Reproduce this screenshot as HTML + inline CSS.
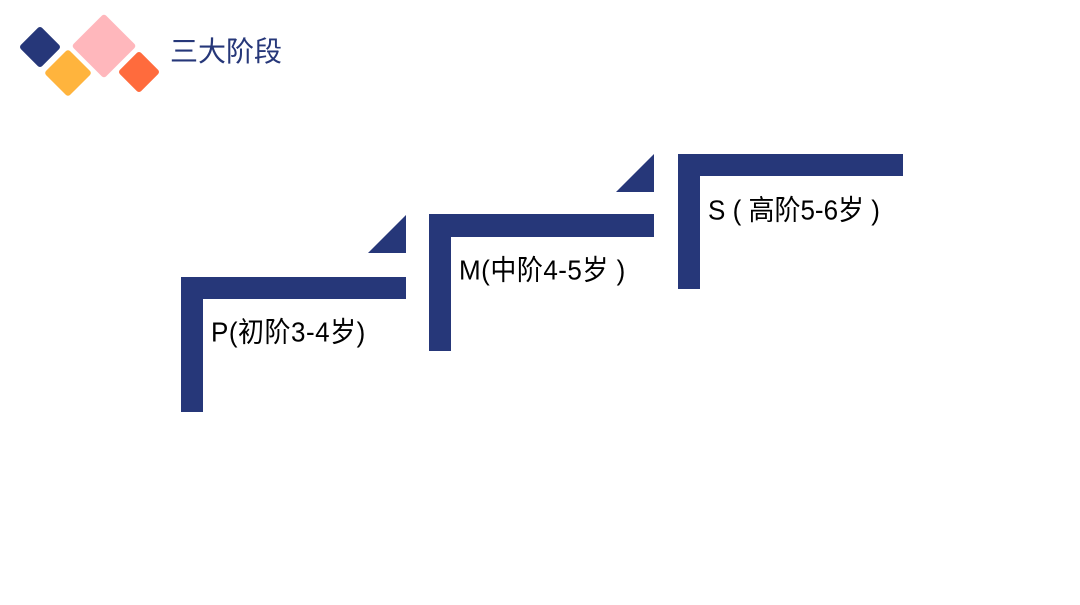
<!DOCTYPE html>
<html><head><meta charset="utf-8"><style>
body{margin:0;width:1080px;height:605px;background:#fff;position:relative;overflow:hidden;font-family:"Liberation Sans","Noto Sans CJK SC",sans-serif}
.t{position:absolute;white-space:nowrap;color:#000;font-size:26px;line-height:1;transform:scaleY(1.08)}
</style></head><body>
<svg width="1080" height="605" style="position:absolute;left:0;top:0">
<g>
<rect x="25" y="32" width="30" height="30" rx="3" fill="#263779" transform="rotate(45 40 47)"/>
<rect x="81" y="23" width="46" height="46" rx="3" fill="#ffb7bc" transform="rotate(45 104 46)"/>
<rect x="51" y="56" width="34" height="34" rx="3" fill="#ffb43d" transform="rotate(45 68 73)"/>
<rect x="124" y="57" width="30" height="30" rx="3" fill="#ff6b3d" transform="rotate(45 139 72)"/>
</g>
<g fill="#263779">
<rect x="181" y="277" width="22" height="135"/><rect x="181" y="277" width="225" height="22"/>
<polygon points="406,215 406,253 368,253"/>
<rect x="429" y="214" width="22" height="137"/><rect x="429" y="214" width="225" height="23"/>
<polygon points="654,154 654,192 616,192"/>
<rect x="678" y="154" width="22" height="135"/><rect x="678" y="154" width="225" height="22"/>
</g>
</svg>
<div class="t" style="left:170px;top:38px;color:#263779;font-size:28px;transform:none">三大阶段</div>
<div class="t" style="left:211px;top:319px;letter-spacing:0.5px">P(初阶3-4岁)</div>
<div class="t" style="left:459px;top:257px;letter-spacing:0.5px">M(中阶4-5岁 )</div>
<div class="t" style="left:708px;top:197px;">S ( 高阶5-6岁 )</div>
</body></html>
